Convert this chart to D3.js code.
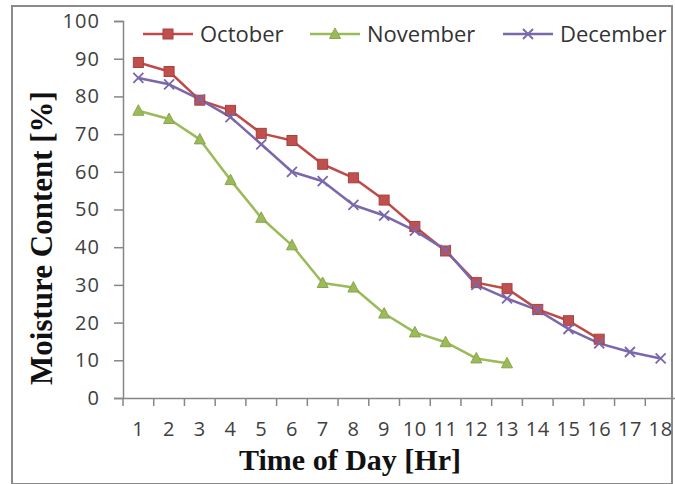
<!DOCTYPE html>
<html>
<head>
<meta charset="utf-8">
<script src="https://cdn.jsdelivr.net/npm/d3@7"></script>
<style>
  body { margin: 0; background: #fff; }
  svg { display: block; }
  .tick text { font-family: "Open Sans", sans-serif; fill: #404040; }
</style>
</head>
<body>
<svg id="chart" width="675" height="484"></svg>
<script>
// hours on the x axis
var hours = d3.range(1, 19);
var yTicks = [0, 10, 20, 30, 40, 50, 60, 70, 80, 90, 100];

// moisture content per month
var october  = [89, 86.6, 79, 76.3, 70.2, 68.3, 62, 58.4, 52.5, 45.5, 39, 30.6, 29, 23.5, 20.5, 15.6];
var november = [76.2, 74, 68.6, 57.8, 47.8, 40.5, 30.5, 29.3, 22.4, 17.4, 14.8, 10.5, 9.2];
var december = [84.9, 83.2, 79.2, 74.5, 67.3, 60, 57.5, 51.2, 48.4, 44.4, 39.3, 30, 26.4, 23.3, 18.3, 14.5, 12.2, 10.5];

var series = [
  { name: "October",  values: october,  color: "#BE4B48", marker: "square" },
  { name: "November", values: november, color: "#9BBB59", marker: "triangle" },
  { name: "December", values: december, color: "#7A67AC", marker: "cross" }
];

var svg = d3.select("#chart");

// outer frame
svg.append("rect")
  .attr("x", 12).attr("y", 6)
  .attr("width", 660).attr("height", 478)
  .attr("fill", "none")
  .attr("stroke", "#8a8a8a")
  .attr("stroke-width", 2);

var x = d3.scaleBand().domain(hours).range([123, 676]);
var y = d3.scaleLinear().domain([0, 100]).range([398, 21]);

// y axis
var yAxis = svg.append("g")
  .attr("transform", "translate(123,0)")
  .call(d3.axisLeft(y).tickValues(yTicks).tickSize(9).tickPadding(14));
yAxis.selectAll("text").attr("font-size", 20).attr("letter-spacing", 1.1);

// x axis, ticks between categories like excel
var xAxis = svg.append("g")
  .attr("transform", "translate(0,398)")
  .call(d3.axisBottom(x).tickSize(0).tickPadding(24));
xAxis.selectAll("text").attr("font-size", 20).attr("letter-spacing", 0.6);
xAxis.selectAll(".between")
  .data(hours.concat([19]))
  .enter().append("line")
  .attr("class", "between")
  .attr("x1", function(d){ return 123 + (d - 1) * x.bandwidth(); })
  .attr("x2", function(d){ return 123 + (d - 1) * x.bandwidth(); })
  .attr("y1", 0).attr("y2", 8);

svg.selectAll(".domain, .tick line, .between")
  .attr("stroke", "#868686")
  .attr("stroke-width", 1.5);

function cx(i) { return x(hours[i]) + x.bandwidth() / 2; }

function drawMarker(g, type, color) {
  if (type == "square") {
    g.append("rect")
      .attr("x", -5).attr("y", -5).attr("width", 10).attr("height", 10)
      .attr("fill", "#C0504D").attr("stroke", "#A8403E").attr("stroke-width", 1);
  } else if (type == "triangle") {
    g.append("path")
      .attr("d", "M0,-6L5.5,4.5L-5.5,4.5Z")
      .attr("fill", color).attr("stroke", "#89A54E").attr("stroke-width", 1);
  } else {
    g.append("path")
      .attr("d", "M-5,-5L5,5M-5,5L5,-5")
      .attr("stroke", color).attr("stroke-width", 1.8).attr("fill", "none");
  }
}

var line = d3.line()
  .x(function(d, i){ return cx(i); })
  .y(function(d){ return y(d); });

series.forEach(function(s) {
  svg.append("path")
    .datum(s.values)
    .attr("d", line)
    .attr("fill", "none")
    .attr("stroke", s.color)
    .attr("stroke-width", 2.5)
    .attr("stroke-linejoin", "round");
});

series.forEach(function(s) {
  s.values.forEach(function(v, i) {
    var g = svg.append("g").attr("transform", "translate(" + cx(i) + "," + y(v) + ")");
    drawMarker(g, s.marker, s.color);
  });
});

// legend
var legendX = [143, 310, 503];
series.forEach(function(s, i) {
  var lg = svg.append("g").attr("transform", "translate(" + legendX[i] + ",34)");
  lg.append("line")
    .attr("x1", 0).attr("x2", 50)
    .attr("stroke", s.color).attr("stroke-width", 2.5);
  var m = lg.append("g").attr("transform", "translate(25,0)");
  drawMarker(m, s.marker, s.color);
  lg.append("text")
    .attr("x", 57).attr("y", 8)
    .attr("font-family", "'Open Sans', sans-serif")
    .attr("font-size", 22)
    .attr("fill", "#333")
    .text(s.name);
});

// axis titles
svg.append("text")
  .attr("x", 350).attr("y", 470)
  .attr("text-anchor", "middle")
  .attr("font-family", "'Liberation Serif', 'Times New Roman', serif")
  .attr("font-weight", "bold")
  .attr("font-size", 30)
  .attr("fill", "#111")
  .text("Time of Day [Hr]");

svg.append("text")
  .attr("transform", "translate(52,238) rotate(-90)")
  .attr("text-anchor", "middle")
  .attr("font-family", "'Liberation Serif', 'Times New Roman', serif")
  .attr("font-weight", "bold")
  .attr("font-size", 31)
  .attr("fill", "#111")
  .text("Moisture Content [%]");
</script>
</body>
</html>
